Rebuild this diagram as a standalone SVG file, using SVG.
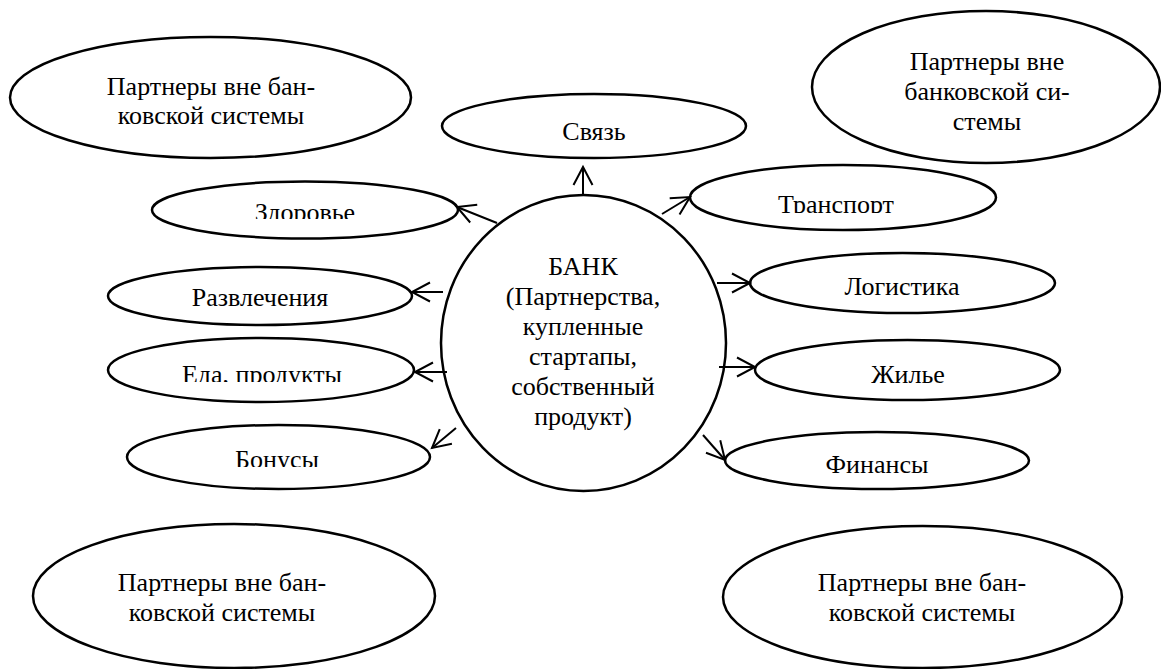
<svg xmlns="http://www.w3.org/2000/svg" width="1161" height="669" viewBox="0 0 1161 669">
<style>
.n{fill:#fff;stroke:#000;stroke-width:2.5}
.t{font-family:"Liberation Serif","Times New Roman",serif;font-size:26px;fill:#000;text-anchor:middle}
.c{stroke:#000;stroke-width:2;fill:none}
</style>
<defs>
<marker id="arr" markerUnits="userSpaceOnUse" markerWidth="30" markerHeight="30" refX="0" refY="0" orient="auto" overflow="visible">
<path d="M-18,-9.5 L0,0 L-18,9.5" fill="none" stroke="#000" stroke-width="2"/>
</marker>
<clipPath id="cz"><rect x="150" y="180" width="310" height="39"/></clipPath>
<clipPath id="ctr"><rect x="688" y="163" width="312" height="50"/></clipPath>
<clipPath id="ce"><rect x="106" y="336" width="312" height="46"/></clipPath>
<clipPath id="cb"><rect x="124" y="424" width="310" height="43"/></clipPath>
</defs>
<rect width="1161" height="669" fill="#fff"/>
<g id="partners-tl"><ellipse class="n" cx="210.5" cy="97.5" rx="200.5" ry="60.5"/><text class="t" x="211" y="95">Партнеры вне бан-</text><text class="t" x="211" y="124">ковской системы</text></g>
<g id="partners-tr"><ellipse class="n" cx="986" cy="87" rx="174" ry="76"/><text class="t" x="987" y="70">Партнеры вне</text><text class="t" x="987" y="100">банковской си-</text><text class="t" x="987" y="130">стемы</text></g>
<g id="partners-bl"><ellipse class="n" cx="234" cy="596" rx="201" ry="72"/><text class="t" x="222" y="591">Партнеры вне бан-</text><text class="t" x="222" y="621">ковской системы</text></g>
<g id="partners-br"><ellipse class="n" cx="922.5" cy="597" rx="199.5" ry="71"/><text class="t" x="922" y="591">Партнеры вне бан-</text><text class="t" x="922" y="621">ковской системы</text></g>
<g id="svyaz"><ellipse class="n" cx="594" cy="126" rx="152" ry="32"/><text class="t" x="594" y="140">Связь</text></g>
<g id="zdorovie"><ellipse class="n" cx="305" cy="210" rx="153" ry="28.5"/><text class="t" x="305" y="221" clip-path="url(#cz)">Здоровье</text></g>
<g id="transport"><ellipse class="n" cx="843" cy="197.5" rx="153" ry="32.5"/><text class="t" x="836" y="213" clip-path="url(#ctr)">Транспорт</text></g>
<g id="razvlecheniya"><ellipse class="n" cx="260" cy="296" rx="152" ry="29"/><text class="t" x="260" y="306">Развлечения</text></g>
<g id="logistika"><ellipse class="n" cx="902.5" cy="283" rx="152.5" ry="30"/><text class="t" x="902" y="295">Логистика</text></g>
<g id="eda"><ellipse class="n" cx="261" cy="370" rx="153" ry="32"/><text class="t" x="262" y="383" clip-path="url(#ce)">Еда, продукты</text></g>
<g id="zhilie"><ellipse class="n" cx="907.5" cy="370" rx="152.5" ry="30"/><text class="t" x="908" y="383">Жилье</text></g>
<g id="bonusy"><ellipse class="n" cx="278.5" cy="457" rx="151.5" ry="32"/><text class="t" x="277" y="468" clip-path="url(#cb)">Бонусы</text></g>
<g id="finansy"><ellipse class="n" cx="877" cy="460.5" rx="152" ry="28.5"/><text class="t" x="877" y="473">Финансы</text></g>
<g id="bank"><ellipse class="n" cx="583.5" cy="343" rx="142.5" ry="148"/>
<text class="t" x="583" y="275">БАНК</text>
<text class="t" x="583" y="305">(Партнерства,</text>
<text class="t" x="583" y="335">купленные</text>
<text class="t" x="583" y="365">стартапы,</text>
<text class="t" x="583" y="395">собственный</text>
<text class="t" x="583" y="425">продукт)</text></g>
<g id="connectors" class="c">
<line x1="583" y1="195" x2="583" y2="167" marker-end="url(#arr)"/>
<line x1="497" y1="223" x2="457" y2="207" marker-end="url(#arr)"/>
<line x1="662" y1="214" x2="690" y2="197" marker-end="url(#arr)"/>
<line x1="443" y1="292" x2="412" y2="292" marker-end="url(#arr)"/>
<line x1="717" y1="283" x2="750" y2="283" marker-end="url(#arr)"/>
<line x1="447" y1="372" x2="415" y2="372" marker-end="url(#arr)"/>
<line x1="719" y1="367" x2="755" y2="367" marker-end="url(#arr)"/>
<line x1="456" y1="428" x2="432" y2="448" marker-end="url(#arr)"/>
<line x1="703" y1="435" x2="725" y2="460" marker-end="url(#arr)"/>
</g>
</svg>
